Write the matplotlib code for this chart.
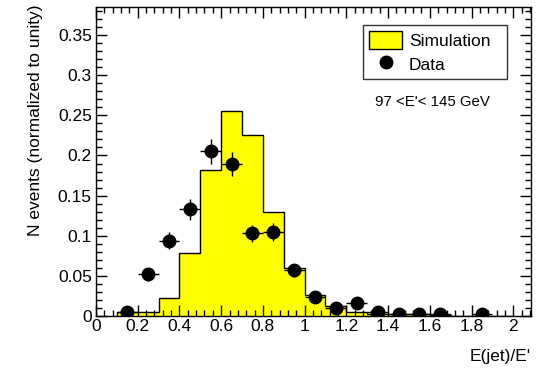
import numpy as np
import matplotlib.pyplot as plt
from matplotlib.ticker import MultipleLocator
from matplotlib.patches import Patch
from matplotlib.lines import Line2D

plt.rcParams['font.family'] = ['Liberation Sans', 'DejaVu Sans']

# Simulation histogram (bin edges 0.1 .. 2.0, width 0.1)
bin_edges = np.round(np.arange(0.1, 2.01, 0.1), 2)
sim_values = [0.005, 0.005, 0.022, 0.078, 0.182, 0.256, 0.226, 0.129, 0.060, 0.026,
              0.012, 0.005, 0.003, 0.002, 0.002, 0.001, 0.0, 0.0, 0.0]

# Data points
data_x = [0.15, 0.25, 0.35, 0.45, 0.55, 0.65, 0.75, 0.85, 0.95, 1.05,
          1.15, 1.25, 1.35, 1.45, 1.55, 1.65, 1.85]
data_y = [0.005, 0.052, 0.094, 0.133, 0.205, 0.189, 0.103, 0.105, 0.057, 0.024,
          0.0095, 0.016, 0.005, 0.003, 0.003, 0.002, 0.002]
data_yerr = [0.004, 0.008, 0.011, 0.013, 0.015, 0.015, 0.011, 0.011, 0.008, 0.005,
             0.003, 0.004, 0.002, 0.002, 0.002, 0.001, 0.001]
data_xerr = 0.05

fs = 12.5
fig = plt.figure(figsize=(5.42, 3.72), dpi=100)
ax = fig.add_axes([96/542, 1-316/372, (531-96)/542, (316-7)/372])

ax.stairs(sim_values, bin_edges, fill=True, color='#ffff00', zorder=1)
ax.stairs(sim_values, bin_edges, color='black', linewidth=1.0, zorder=2, baseline=0)
ax.errorbar(data_x, data_y, yerr=data_yerr, xerr=data_xerr, fmt='o', color='black',
            markersize=9, elinewidth=1.0, capsize=0, zorder=3)

ax.set_xlim(0, 2.085)
ax.set_ylim(0, 0.385)
ax.xaxis.set_major_locator(MultipleLocator(0.2))
ax.xaxis.set_minor_locator(MultipleLocator(0.04))
ax.yaxis.set_major_locator(MultipleLocator(0.05))
ax.yaxis.set_minor_locator(MultipleLocator(0.01))
ax.tick_params(which='both', direction='in', top=True, right=True, labelsize=fs, width=1.0)
ax.tick_params(which='major', length=8)
ax.tick_params(which='minor', length=4)
ax.tick_params(axis='y', pad=3)
ax.tick_params(axis='x', pad=2)
ax.set_xticks(np.round(np.arange(0, 2.01, 0.2), 1))
ax.set_xticklabels(['0', '0.2', '0.4', '0.6', '0.8', '1', '1.2', '1.4', '1.6', '1.8', '2'])
ax.set_yticks(np.round(np.arange(0, 0.351, 0.05), 2))
ax.set_yticklabels(['0', '0.05', '0.1', '0.15', '0.2', '0.25', '0.3', '0.35'])
for s in ax.spines.values():
    s.set_linewidth(1.0)

fig.text(531/542, 1-356/372, "E(jet)/E'", ha='right', va='center', fontsize=fs)
fig.text(36/542, 1-4/372, 'N events (normalized to unity)', rotation=90,
         ha='center', va='top', fontsize=fs)

# legend box: x 363..507 px, y 25..80 px
lx0 = (363-96)/435
lw = (507-363)/435
ly1 = 1-(25-7)/309
lh = 55/309
handles = [Patch(facecolor='#ffff00', edgecolor='black', linewidth=1.0),
           Line2D([], [], marker='o', color='black', linestyle='none', markersize=9)]
leg = ax.legend(handles, ['Simulation', 'Data'], loc='upper left',
                bbox_to_anchor=(lx0, ly1-lh, lw, lh), mode='expand', fontsize=fs,
                frameon=True, fancybox=False, edgecolor='black', borderpad=0.35,
                borderaxespad=0, handlelength=1.9, handleheight=1.2,
                handletextpad=0.4, labelspacing=0.35)
leg.get_frame().set_linewidth(1.0)

fig.text(432/542, 1-102/372, "97 <E'< 145 GeV", ha='center', va='center', fontsize=10.8)

fig.savefig('out.png', dpi=100)
